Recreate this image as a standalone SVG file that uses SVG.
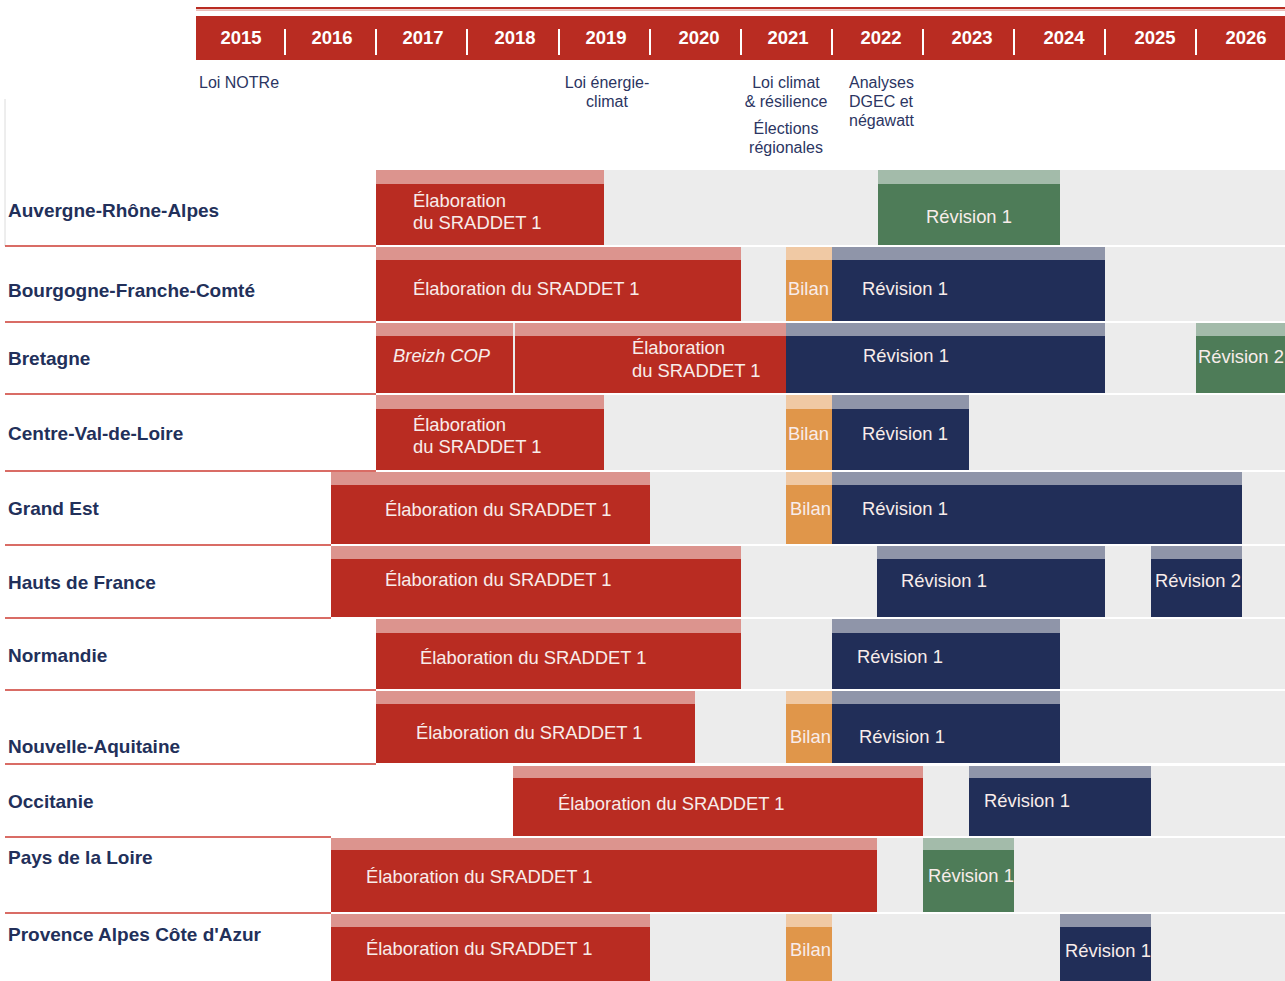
<svg xmlns="http://www.w3.org/2000/svg" width="1285" height="981" viewBox="0 0 1285 981">
<style>
.yr{font-family:"Liberation Sans",Arial,sans-serif;font-weight:bold;font-size:18.5px;fill:#ffffff;text-anchor:middle}
.ann{font-family:"Liberation Sans",Arial,sans-serif;font-size:16px;fill:#2b3562}
.annm{font-family:"Liberation Sans",Arial,sans-serif;font-size:16px;fill:#2b3562;text-anchor:middle}
.lbl{font-family:"Liberation Sans",Arial,sans-serif;font-weight:bold;font-size:19px;fill:#22305a}
.bt{font-family:"Liberation Sans",Arial,sans-serif;font-size:18.4px;fill:#f8ecea}
.btm{font-family:"Liberation Sans",Arial,sans-serif;font-size:18.4px;fill:#f8ecea;text-anchor:middle}
.it{font-style:italic}
.bg{fill:#ececec}
.red{fill:#b92c22}
.redS{fill:#dc948e}
.navy{fill:#212e58}
.navyS{fill:#8f95a9}
.org{fill:#e0964a}
.orgS{fill:#f0c9a4}
.grn{fill:#4e7c58}
.grnS{fill:#a3bbaa}
.sep{stroke:#ffffff;stroke-width:2}
.rl{stroke:#cc3b32;stroke-width:1.5;fill:none}
</style>

<g id="header">
<rect x="196" y="7" width="1089" height="2" fill="#b92c22"/>
<rect x="196" y="9.5" width="1089" height="1.2" fill="#e3a09a"/>
<rect x="196" y="16" width="1089" height="44" fill="#b92c22"/>
<line class="sep" x1="285" y1="29" x2="285" y2="55"/>
<line class="sep" x1="376" y1="29" x2="376" y2="55"/>
<line class="sep" x1="467" y1="29" x2="467" y2="55"/>
<line class="sep" x1="559" y1="29" x2="559" y2="55"/>
<line class="sep" x1="650" y1="29" x2="650" y2="55"/>
<line class="sep" x1="741" y1="29" x2="741" y2="55"/>
<line class="sep" x1="832" y1="29" x2="832" y2="55"/>
<line class="sep" x1="923" y1="29" x2="923" y2="55"/>
<line class="sep" x1="1014" y1="29" x2="1014" y2="55"/>
<line class="sep" x1="1105" y1="29" x2="1105" y2="55"/>
<line class="sep" x1="1196" y1="29" x2="1196" y2="55"/>
<text class="yr" x="241" y="44">2015</text>
<text class="yr" x="332" y="44">2016</text>
<text class="yr" x="423" y="44">2017</text>
<text class="yr" x="515" y="44">2018</text>
<text class="yr" x="606" y="44">2019</text>
<text class="yr" x="699" y="44">2020</text>
<text class="yr" x="788" y="44">2021</text>
<text class="yr" x="881" y="44">2022</text>
<text class="yr" x="972" y="44">2023</text>
<text class="yr" x="1064" y="44">2024</text>
<text class="yr" x="1155" y="44">2025</text>
<text class="yr" x="1246" y="44">2026</text>
</g>

<g id="annotations">
<text class="ann" x="199" y="88">Loi NOTRe</text>
<text class="annm" x="607" y="88">Loi énergie-</text>
<text class="annm" x="607" y="107">climat</text>
<text class="annm" x="786" y="88">Loi climat</text>
<text class="annm" x="786" y="107">&amp; résilience</text>
<text class="annm" x="786" y="134">Élections</text>
<text class="annm" x="786" y="153">régionales</text>
<text class="ann" x="849" y="88">Analyses</text>
<text class="ann" x="849" y="107">DGEC et</text>
<text class="ann" x="849" y="126">négawatt</text>
</g>

<g id="connectors">
<line x1="5" y1="99" x2="5" y2="246" stroke="#dcdcdc" stroke-width="1"/>
<line class="rl" x1="5" y1="246" x2="376" y2="246"/>
<line class="rl" x1="5" y1="322" x2="376" y2="322"/>
<line class="rl" x1="5" y1="394" x2="376" y2="394"/>
<line class="rl" x1="5" y1="471" x2="376" y2="471"/>
<line class="rl" x1="5" y1="545" x2="331" y2="545"/>
<line class="rl" x1="5" y1="618" x2="331" y2="618"/>
<line class="rl" x1="5" y1="690" x2="376" y2="690"/>
<line class="rl" x1="5" y1="764" x2="376" y2="764"/>
<line class="rl" x1="5" y1="837" x2="331" y2="837"/>
<line class="rl" x1="5" y1="913" x2="331" y2="913"/>
</g>

<g id="row-auvergne">
<text class="lbl" x="8" y="217">Auvergne-Rhône-Alpes</text>
<rect class="bg" x="376" y="170" width="909" height="75"/>
<rect class="red" x="376" y="170" width="228" height="75"/>
<rect class="redS" x="376" y="170" width="228" height="14"/>
<text class="bt" x="413" y="207">Élaboration</text>
<text class="bt" x="413" y="229">du SRADDET 1</text>
<rect class="grn" x="878" y="170" width="182" height="75"/>
<rect class="grnS" x="878" y="170" width="182" height="14"/>
<text class="btm" x="969" y="223">Révision 1</text>
</g>

<g id="row-bourgogne">
<text class="lbl" x="8" y="297">Bourgogne-Franche-Comté</text>
<rect class="bg" x="376" y="247" width="909" height="74"/>
<rect class="red" x="376" y="247" width="365" height="74"/>
<rect class="redS" x="376" y="247" width="365" height="13"/>
<text class="bt" x="413" y="295">Élaboration du SRADDET 1</text>
<rect class="org" x="786" y="247" width="46" height="74"/>
<rect class="orgS" x="786" y="247" width="46" height="13"/>
<text class="bt" x="788" y="295">Bilan</text>
<rect class="navy" x="832" y="247" width="273" height="74"/>
<rect class="navyS" x="832" y="247" width="273" height="13"/>
<text class="bt" x="862" y="295">Révision 1</text>
</g>

<g id="row-bretagne">
<text class="lbl" x="8" y="365">Bretagne</text>
<rect class="bg" x="376" y="323" width="909" height="70"/>
<rect class="red" x="376" y="323" width="137" height="70"/>
<rect class="redS" x="376" y="323" width="137" height="13"/>
<text class="bt it" x="393" y="362">Breizh COP</text>
<rect class="red" x="515" y="323" width="271" height="70"/>
<rect class="redS" x="515" y="323" width="271" height="13"/>
<text class="bt" x="632" y="354">Élaboration</text>
<text class="bt" x="632" y="377">du SRADDET 1</text>
<rect class="navy" x="786" y="323" width="319" height="70"/>
<rect class="navyS" x="786" y="323" width="319" height="13"/>
<text class="bt" x="863" y="362">Révision 1</text>
<rect class="grn" x="1196" y="323" width="89" height="70"/>
<rect class="grnS" x="1196" y="323" width="89" height="13"/>
<text class="bt" x="1198" y="363">Révision 2</text>
</g>

<g id="row-centre">
<text class="lbl" x="8" y="440">Centre-Val-de-Loire</text>
<rect class="bg" x="376" y="395" width="909" height="75"/>
<rect class="red" x="376" y="395" width="228" height="75"/>
<rect class="redS" x="376" y="395" width="228" height="14"/>
<text class="bt" x="413" y="431">Élaboration</text>
<text class="bt" x="413" y="453">du SRADDET 1</text>
<rect class="org" x="786" y="395" width="46" height="75"/>
<rect class="orgS" x="786" y="395" width="46" height="14"/>
<text class="bt" x="788" y="440">Bilan</text>
<rect class="navy" x="832" y="395" width="137" height="75"/>
<rect class="navyS" x="832" y="395" width="137" height="14"/>
<text class="bt" x="862" y="440">Révision 1</text>
</g>

<g id="row-grand-est">
<text class="lbl" x="8" y="515">Grand Est</text>
<rect class="bg" x="331" y="472" width="954" height="72"/>
<rect class="red" x="331" y="472" width="319" height="72"/>
<rect class="redS" x="331" y="472" width="319" height="13"/>
<text class="bt" x="385" y="516">Élaboration du SRADDET 1</text>
<rect class="org" x="786" y="472" width="46" height="72"/>
<rect class="orgS" x="786" y="472" width="46" height="13"/>
<text class="bt" x="790" y="515">Bilan</text>
<rect class="navy" x="832" y="472" width="410" height="72"/>
<rect class="navyS" x="832" y="472" width="410" height="13"/>
<text class="bt" x="862" y="515">Révision 1</text>
</g>

<g id="row-hauts-de-france">
<text class="lbl" x="8" y="589">Hauts de France</text>
<rect class="bg" x="331" y="546" width="954" height="71"/>
<rect class="red" x="331" y="546" width="410" height="71"/>
<rect class="redS" x="331" y="546" width="410" height="13"/>
<text class="bt" x="385" y="586">Élaboration du SRADDET 1</text>
<rect class="navy" x="877" y="546" width="228" height="71"/>
<rect class="navyS" x="877" y="546" width="228" height="13"/>
<text class="bt" x="901" y="587">Révision 1</text>
<rect class="navy" x="1151" y="546" width="91" height="71"/>
<rect class="navyS" x="1151" y="546" width="91" height="13"/>
<text class="bt" x="1155" y="587">Révision 2</text>
</g>

<g id="row-normandie">
<text class="lbl" x="8" y="662">Normandie</text>
<rect class="bg" x="376" y="619" width="909" height="70"/>
<rect class="red" x="376" y="619" width="365" height="70"/>
<rect class="redS" x="376" y="619" width="365" height="14"/>
<text class="bt" x="420" y="664">Élaboration du SRADDET 1</text>
<rect class="navy" x="832" y="619" width="228" height="70"/>
<rect class="navyS" x="832" y="619" width="228" height="14"/>
<text class="bt" x="857" y="663">Révision 1</text>
</g>

<g id="row-nouvelle-aquitaine">
<text class="lbl" x="8" y="753">Nouvelle-Aquitaine</text>
<rect class="bg" x="376" y="691" width="909" height="72"/>
<rect class="red" x="376" y="691" width="319" height="72"/>
<rect class="redS" x="376" y="691" width="319" height="13"/>
<text class="bt" x="416" y="739">Élaboration du SRADDET 1</text>
<rect class="org" x="786" y="691" width="46" height="72"/>
<rect class="orgS" x="786" y="691" width="46" height="13"/>
<text class="bt" x="790" y="743">Bilan</text>
<rect class="navy" x="832" y="691" width="228" height="72"/>
<rect class="navyS" x="832" y="691" width="228" height="13"/>
<text class="bt" x="859" y="743">Révision 1</text>
</g>

<g id="row-occitanie">
<text class="lbl" x="8" y="808">Occitanie</text>
<rect class="bg" x="513" y="766" width="772" height="70"/>
<rect class="red" x="513" y="766" width="410" height="70"/>
<rect class="redS" x="513" y="766" width="410" height="12"/>
<text class="bt" x="558" y="810">Élaboration du SRADDET 1</text>
<rect class="navy" x="969" y="766" width="182" height="70"/>
<rect class="navyS" x="969" y="766" width="182" height="12"/>
<text class="bt" x="984" y="807">Révision 1</text>
</g>

<g id="row-pays-de-la-loire">
<text class="lbl" x="8" y="864">Pays de la Loire</text>
<rect class="bg" x="331" y="838" width="954" height="74"/>
<rect class="red" x="331" y="838" width="546" height="74"/>
<rect class="redS" x="331" y="838" width="546" height="12"/>
<text class="bt" x="366" y="883">Élaboration du SRADDET 1</text>
<rect class="grn" x="923" y="838" width="91" height="74"/>
<rect class="grnS" x="923" y="838" width="91" height="12"/>
<text class="bt" x="928" y="882">Révision 1</text>
</g>

<g id="row-paca">
<text class="lbl" x="8" y="941">Provence Alpes Côte d'Azur</text>
<rect class="bg" x="331" y="914" width="954" height="67"/>
<rect class="red" x="331" y="914" width="319" height="67"/>
<rect class="redS" x="331" y="914" width="319" height="13"/>
<text class="bt" x="366" y="955">Élaboration du SRADDET 1</text>
<rect class="org" x="786" y="914" width="46" height="67"/>
<rect class="orgS" x="786" y="914" width="46" height="13"/>
<text class="bt" x="790" y="956">Bilan</text>
<rect class="navy" x="1060" y="914" width="91" height="67"/>
<rect class="navyS" x="1060" y="914" width="91" height="13"/>
<text class="bt" x="1065" y="957">Révision 1</text>
</g>
</svg>
